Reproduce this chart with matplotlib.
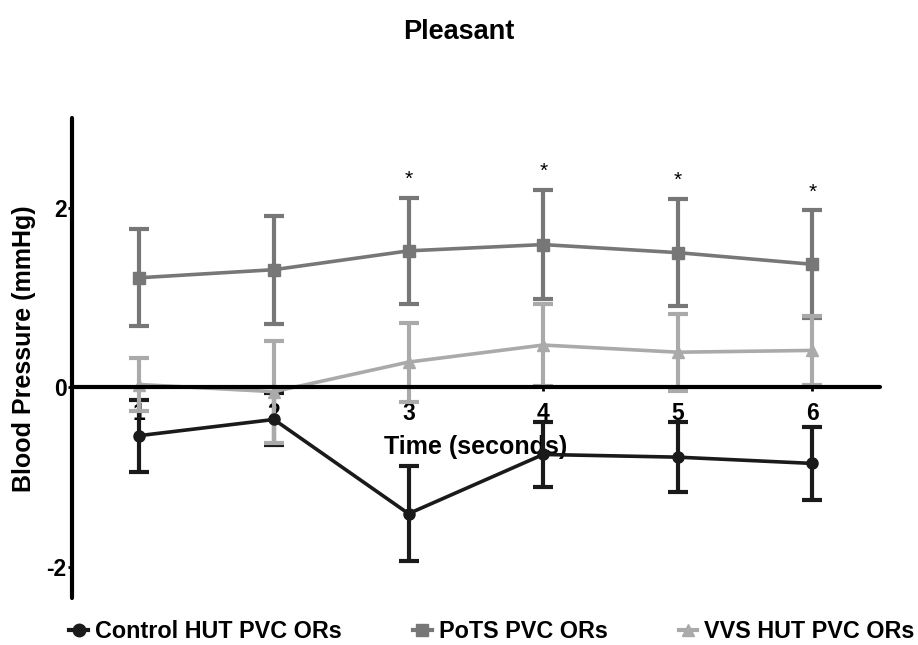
import numpy as np
import matplotlib.pyplot as plt
from matplotlib.lines import Line2D

plt.rcParams['font.family'] = ['Liberation Sans', 'DejaVu Sans']
plt.rcParams['axes.unicode_minus'] = False

# values
time_s = [1, 2, 3, 4, 5, 6]
control_mean = [-0.54, -0.36, -1.41, -0.75, -0.78, -0.85]
control_err = [0.40, 0.29, 0.53, 0.36, 0.39, 0.41]
pots_mean = [1.22, 1.31, 1.52, 1.59, 1.50, 1.37]
pots_err = [0.54, 0.60, 0.59, 0.61, 0.60, 0.60]
vvs_mean = [0.03, -0.05, 0.28, 0.47, 0.39, 0.41]
vvs_err = [0.29, 0.57, 0.44, 0.46, 0.43, 0.38]
star_times = [3, 4, 5, 6]

fig = plt.figure(figsize=(9.18, 6.45), dpi=100)
ax = fig.add_axes([0.0784, 0.0729, 0.88, 0.744])

series = [
    ('Control HUT PVC ORs', control_mean, control_err, '#1a1a1a', 'o'),
    ('PoTS PVC ORs', pots_mean, pots_err, '#777777', 's'),
    ('VVS HUT PVC ORs', vvs_mean, vvs_err, '#aaaaaa', '^'),
]
handles = []
for label, m, e, col, mk in series:
    ax.errorbar(time_s, m, yerr=e, color=col, marker=mk, markersize=8,
                lw=2.6, elinewidth=3, capsize=7, capthick=3)
    handles.append(Line2D([], [], color=col, marker=mk, markersize=9,
                          lw=3, label=label))

# significance stars above the PoTS bars
for t in star_times:
    i = time_s.index(t)
    ax.text(t, pots_mean[i] + pots_err[i] + 0.1, '*', ha='center',
            va='bottom', fontsize=15)

ax.set_xlim(0.5, 6.5)
ax.set_ylim(-2.35, 3.0)
ax.set_xticks(time_s)
ax.set_yticks([-2, 0, 2])
ax.spines['bottom'].set_position(('data', 0))
ax.spines['top'].set_visible(False)
ax.spines['right'].set_visible(False)
for s in ('left', 'bottom'):
    ax.spines[s].set_linewidth(3)
    ax.spines[s].set_capstyle('round')
ax.tick_params(axis='both', width=2, length=3, labelsize=16.5)
for lab in ax.get_xticklabels() + ax.get_yticklabels():
    lab.set_fontweight('bold')
ax.tick_params(axis='y', pad=1)
ax.tick_params(axis='x', pad=8)

ax.set_xlabel('Time (seconds)', fontsize=18, fontweight='bold')
ax.xaxis.set_label_coords(0.5, 0.34)
ax.set_ylabel('Blood Pressure (mmHg)', fontsize=18, fontweight='bold')
ax.yaxis.set_label_coords(-0.045, 0.52)

fig.suptitle('Pleasant', fontsize=19.5, fontweight='bold', y=0.97)

fig.legend(handles=handles, loc='center left', ncol=3, frameon=False,
           bbox_to_anchor=(0.0757, 0.021), borderpad=0, borderaxespad=0,
           columnspacing=3.05, handlelength=0.8, handletextpad=0.3,
           prop={'weight': 'bold', 'size': 16.8})

fig.savefig('out.png', dpi=100)
